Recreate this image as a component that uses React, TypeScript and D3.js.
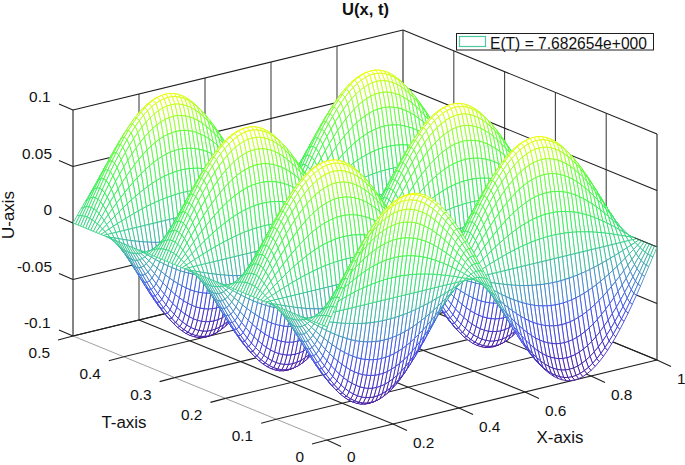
import React, { useRef, useEffect } from 'react'
import * as d3 from 'd3'

const title = 'U(x, t)'
const legendLabel = 'E(T) = 7.682654e+000'

const xTicks = [0, 0.2, 0.4, 0.6, 0.8, 1]
const tTicks = [0, 0.1, 0.2, 0.3, 0.4, 0.5]
const uTicks = [-0.1, -0.05, 0, 0.05, 0.1]

// mesh positions are the grid index over these ranges
const xRange = [0, 1]
const tRange = [0, 0.5]
const peakU = 0.1

// surface read as (shape across x) * (swing over t), one entry per mesh line
const shapeAcrossX = [
  0, 0.079, 0.156, 0.233, 0.309, 0.383, 0.454, 0.523, 0.588, 0.649, 0.707,
  0.76, 0.809, 0.853, 0.891, 0.924, 0.951, 0.972, 0.988, 0.997, 1,
  0.997, 0.988, 0.972, 0.951, 0.924, 0.891, 0.853, 0.809, 0.76, 0.707,
  0.649, 0.588, 0.523, 0.454, 0.383, 0.309, 0.233, 0.156, 0.079, 0,
  -0.079, -0.156, -0.233, -0.309, -0.383, -0.454, -0.523, -0.588, -0.649, -0.707,
  -0.76, -0.809, -0.853, -0.891, -0.924, -0.951, -0.972, -0.988, -0.997, -1,
  -0.997, -0.988, -0.972, -0.951, -0.924, -0.891, -0.853, -0.809, -0.76, -0.707,
  -0.649, -0.588, -0.523, -0.454, -0.383, -0.309, -0.233, -0.156, -0.079, 0,
]
const swingOverT = [
  1, 0.981, 0.924, 0.831, 0.707, 0.556, 0.383, 0.195, 0, -0.195, -0.383, -0.556, -0.707, -0.831, -0.924, -0.981,
  -1, -0.981, -0.924, -0.831, -0.707, -0.556, -0.383, -0.195, 0, 0.195, 0.383, 0.556, 0.707, 0.831, 0.924, 0.981,
  1, 0.981, 0.924, 0.831, 0.707, 0.556, 0.383, 0.195, 0, -0.195, -0.383, -0.556, -0.707, -0.831, -0.924, -0.981,
  -1, -0.981, -0.924, -0.831, -0.707, -0.556, -0.383, -0.195, 0, 0.195, 0.383, 0.556, 0.707, 0.831, 0.924, 0.981,
  1, 0.981, 0.924, 0.831, 0.707, 0.556, 0.383, 0.195, 0, -0.195, -0.383, -0.556, -0.707, -0.831, -0.924, -0.981,
  -1, -0.981, -0.924, -0.831, -0.707, -0.556, -0.383, -0.195, 0, 0.195, 0.383, 0.556, 0.707, 0.831, 0.924, 0.981,
  1, 0.981, 0.924, 0.831, 0.707,
]

const colorLevels = [-0.1, -0.05, -0.025, 0, 0.03, 0.065, 0.1]
const colorStops = ['#3c0a96', '#3646ea', '#3a86c4', '#2fcf84', '#2cf04c', '#5cff2c', '#f2ff00']

const FONT = '"Liberation Sans", Arial, sans-serif'
const INK = '#1f1f1f'

const App: React.FC = () => {
  const svgRef = useRef<SVGSVGElement>(null)

  useEffect(() => {
    const svg = d3.select(svgRef.current!)
    svg.selectAll('*').remove()

    // oblique projection: each data axis moves the point along a fixed screen vector
    const xToSx = d3.scaleLinear().domain(xRange).range([327, 657])
    const xToSy = d3.scaleLinear().domain(xRange).range([440, 360])
    const tToSx = d3.scaleLinear().domain(tRange).range([0, -254])
    const tToSy = d3.scaleLinear().domain(tRange).range([0, -104])
    const uToSy = d3.scaleLinear().domain([-0.1, 0.1]).range([0, -226])
    const project = (x: number, t: number, u: number): [number, number] => [
      xToSx(x) + tToSx(t),
      xToSy(x) + tToSy(t) + uToSy(u),
    ]

    const color = d3
      .scaleLinear<string>()
      .domain(colorLevels)
      .range(colorStops)
      .interpolate(d3.interpolateRgb)

    const seg = (
      a: [number, number],
      b: [number, number],
      stroke = INK,
      w = 1.1
    ) =>
      svg
        .append('line')
        .attr('x1', a[0])
        .attr('y1', a[1])
        .attr('x2', b[0])
        .attr('y2', b[1])
        .attr('stroke', stroke)
        .attr('stroke-width', w)

    const [uMin, uMax] = [uTicks[0], uTicks[uTicks.length - 1]]
    const [tFront, tBack] = [tRange[0], tRange[1]]
    const [xLeft, xRight] = [xRange[0], xRange[1]]

    // walls
    xTicks.forEach((x) => {
      seg(project(x, tBack, uMin), project(x, tBack, uMax), x === xLeft || x === xRight ? INK : '#444')
    })
    tTicks.forEach((t) => {
      if (t !== tBack) seg(project(xRight, t, uMin), project(xRight, t, uMax), t === tFront ? INK : '#444')
    })
    uTicks.forEach((u) => {
      seg(project(xLeft, tBack, u), project(xRight, tBack, u))
      seg(project(xRight, tBack, u), project(xRight, tFront, u))
      // u tick leans along the t direction
      const p = project(xLeft, tBack, u)
      seg(p, [p[0] - 14, p[1] - 6])
    })

    // floor grid with outward ticks
    xTicks.forEach((x) => {
      const end = project(x, tFront, uMin)
      seg(project(x, tBack, uMin), end, x === xLeft ? '#777' : INK, x === xLeft ? 0.7 : 1.1)
      seg(end, [end[0] + 14, end[1] + 6.5])
    })
    tTicks.forEach((t) => {
      const start = project(xLeft, t, uMin)
      seg(start, project(xRight, t, uMin))
      seg(start, [start[0] - 15, start[1] + 4])
    })

    // mesh: white quads painted from the far corner to the near one
    const stepX = (xRange[1] - xRange[0]) / (shapeAcrossX.length - 1)
    const stepT = (tRange[1] - tRange[0]) / (swingOverT.length - 1)
    const height = (i: number, j: number) => peakU * shapeAcrossX[i] * swingOverT[j]
    const corner = (i: number, j: number) => project(i * stepX, j * stepT, height(i, j))
    const outline = d3.line().curve(d3.curveLinearClosed)

    const quads: { d: string; u: number }[] = []
    for (let j = swingOverT.length - 2; j >= 0; j--) {
      for (let i = shapeAcrossX.length - 2; i >= 0; i--) {
        quads.push({
          d: outline([corner(i, j), corner(i + 1, j), corner(i + 1, j + 1), corner(i, j + 1)])!,
          u: (height(i, j) + height(i + 1, j) + height(i + 1, j + 1) + height(i, j + 1)) / 4,
        })
      }
    }
    svg
      .append('g')
      .attr('stroke-width', 0.85)
      .attr('stroke-linejoin', 'round')
      .selectAll('path')
      .data(quads)
      .join('path')
      .attr('d', (q) => q.d)
      .attr('fill', 'white')
      .attr('stroke', (q) => color(q.u))

    // wall line at u = 0 shows through where the mesh edge lies on it
    seg(project(xRight, 0.044, 0), project(xRight, tFront, 0), '#333', 0.9)

    const label = (
      x: number,
      y: number,
      text: string,
      anchor = 'middle',
      size = 15.4,
      weight = 'normal'
    ) =>
      svg
        .append('text')
        .attr('x', x)
        .attr('y', y)
        .attr('text-anchor', anchor)
        .attr('fill', '#111')
        .style('font-family', FONT)
        .style('font-size', `${size}px`)
        .style('font-weight', weight)
        .text(text)

    label(365.5, 15, title, 'middle', 16.6, 'bold')

    // tick labels follow their tick, u is right-aligned
    uTicks.forEach((u) => {
      const p = project(xLeft, tBack, u)
      label(Math.abs(u) === 0.1 ? 50.5 : 52, p[1] - 8, String(u), 'end')
    })
    tTicks.forEach((t) => {
      const p = project(xLeft, t, uMin)
      label(p[0] - 23, p[1] + 22, String(t), 'end')
    })
    xTicks.forEach((x) => {
      const p = project(x, tFront, uMin)
      // the lowest label has to stay inside the page
      label(p[0] + 20, Math.min(p[1] + 24, 461.5), String(x), 'start')
    })

    label(124, 428, 'T-axis', 'middle', 16.9)
    label(560, 443, 'X-axis', 'middle', 16.9)
    label(0, 0, 'U-axis', 'middle', 16.9).attr('transform', 'translate(14,215) rotate(-90)')

    // legend
    const lg = svg.append('g')
    lg.append('rect')
      .attr('x', 456.5)
      .attr('y', 33.5)
      .attr('width', 197)
      .attr('height', 16.5)
      .attr('fill', 'white')
      .attr('stroke', 'none')
    lg.append('rect')
      .attr('x', 459.5)
      .attr('y', 36.5)
      .attr('width', 26)
      .attr('height', 10)
      .attr('fill', 'none')
      .attr('stroke', '#4fc8a0')
      .attr('stroke-width', 1.2)
    label(490, 49, legendLabel, 'start', 15.6)
    lg.append('rect')
      .attr('x', 456.5)
      .attr('y', 33.5)
      .attr('width', 197)
      .attr('height', 16.5)
      .attr('fill', 'none')
      .attr('stroke', INK)
      .attr('stroke-width', 1)
  }, [])

  return (
    <svg
      ref={svgRef}
      width={685}
      height={465}
      viewBox="0 0 685 465"
      style={{ position: 'absolute', left: 0, top: 0, background: 'white' }}
    />
  )
}

export default App
